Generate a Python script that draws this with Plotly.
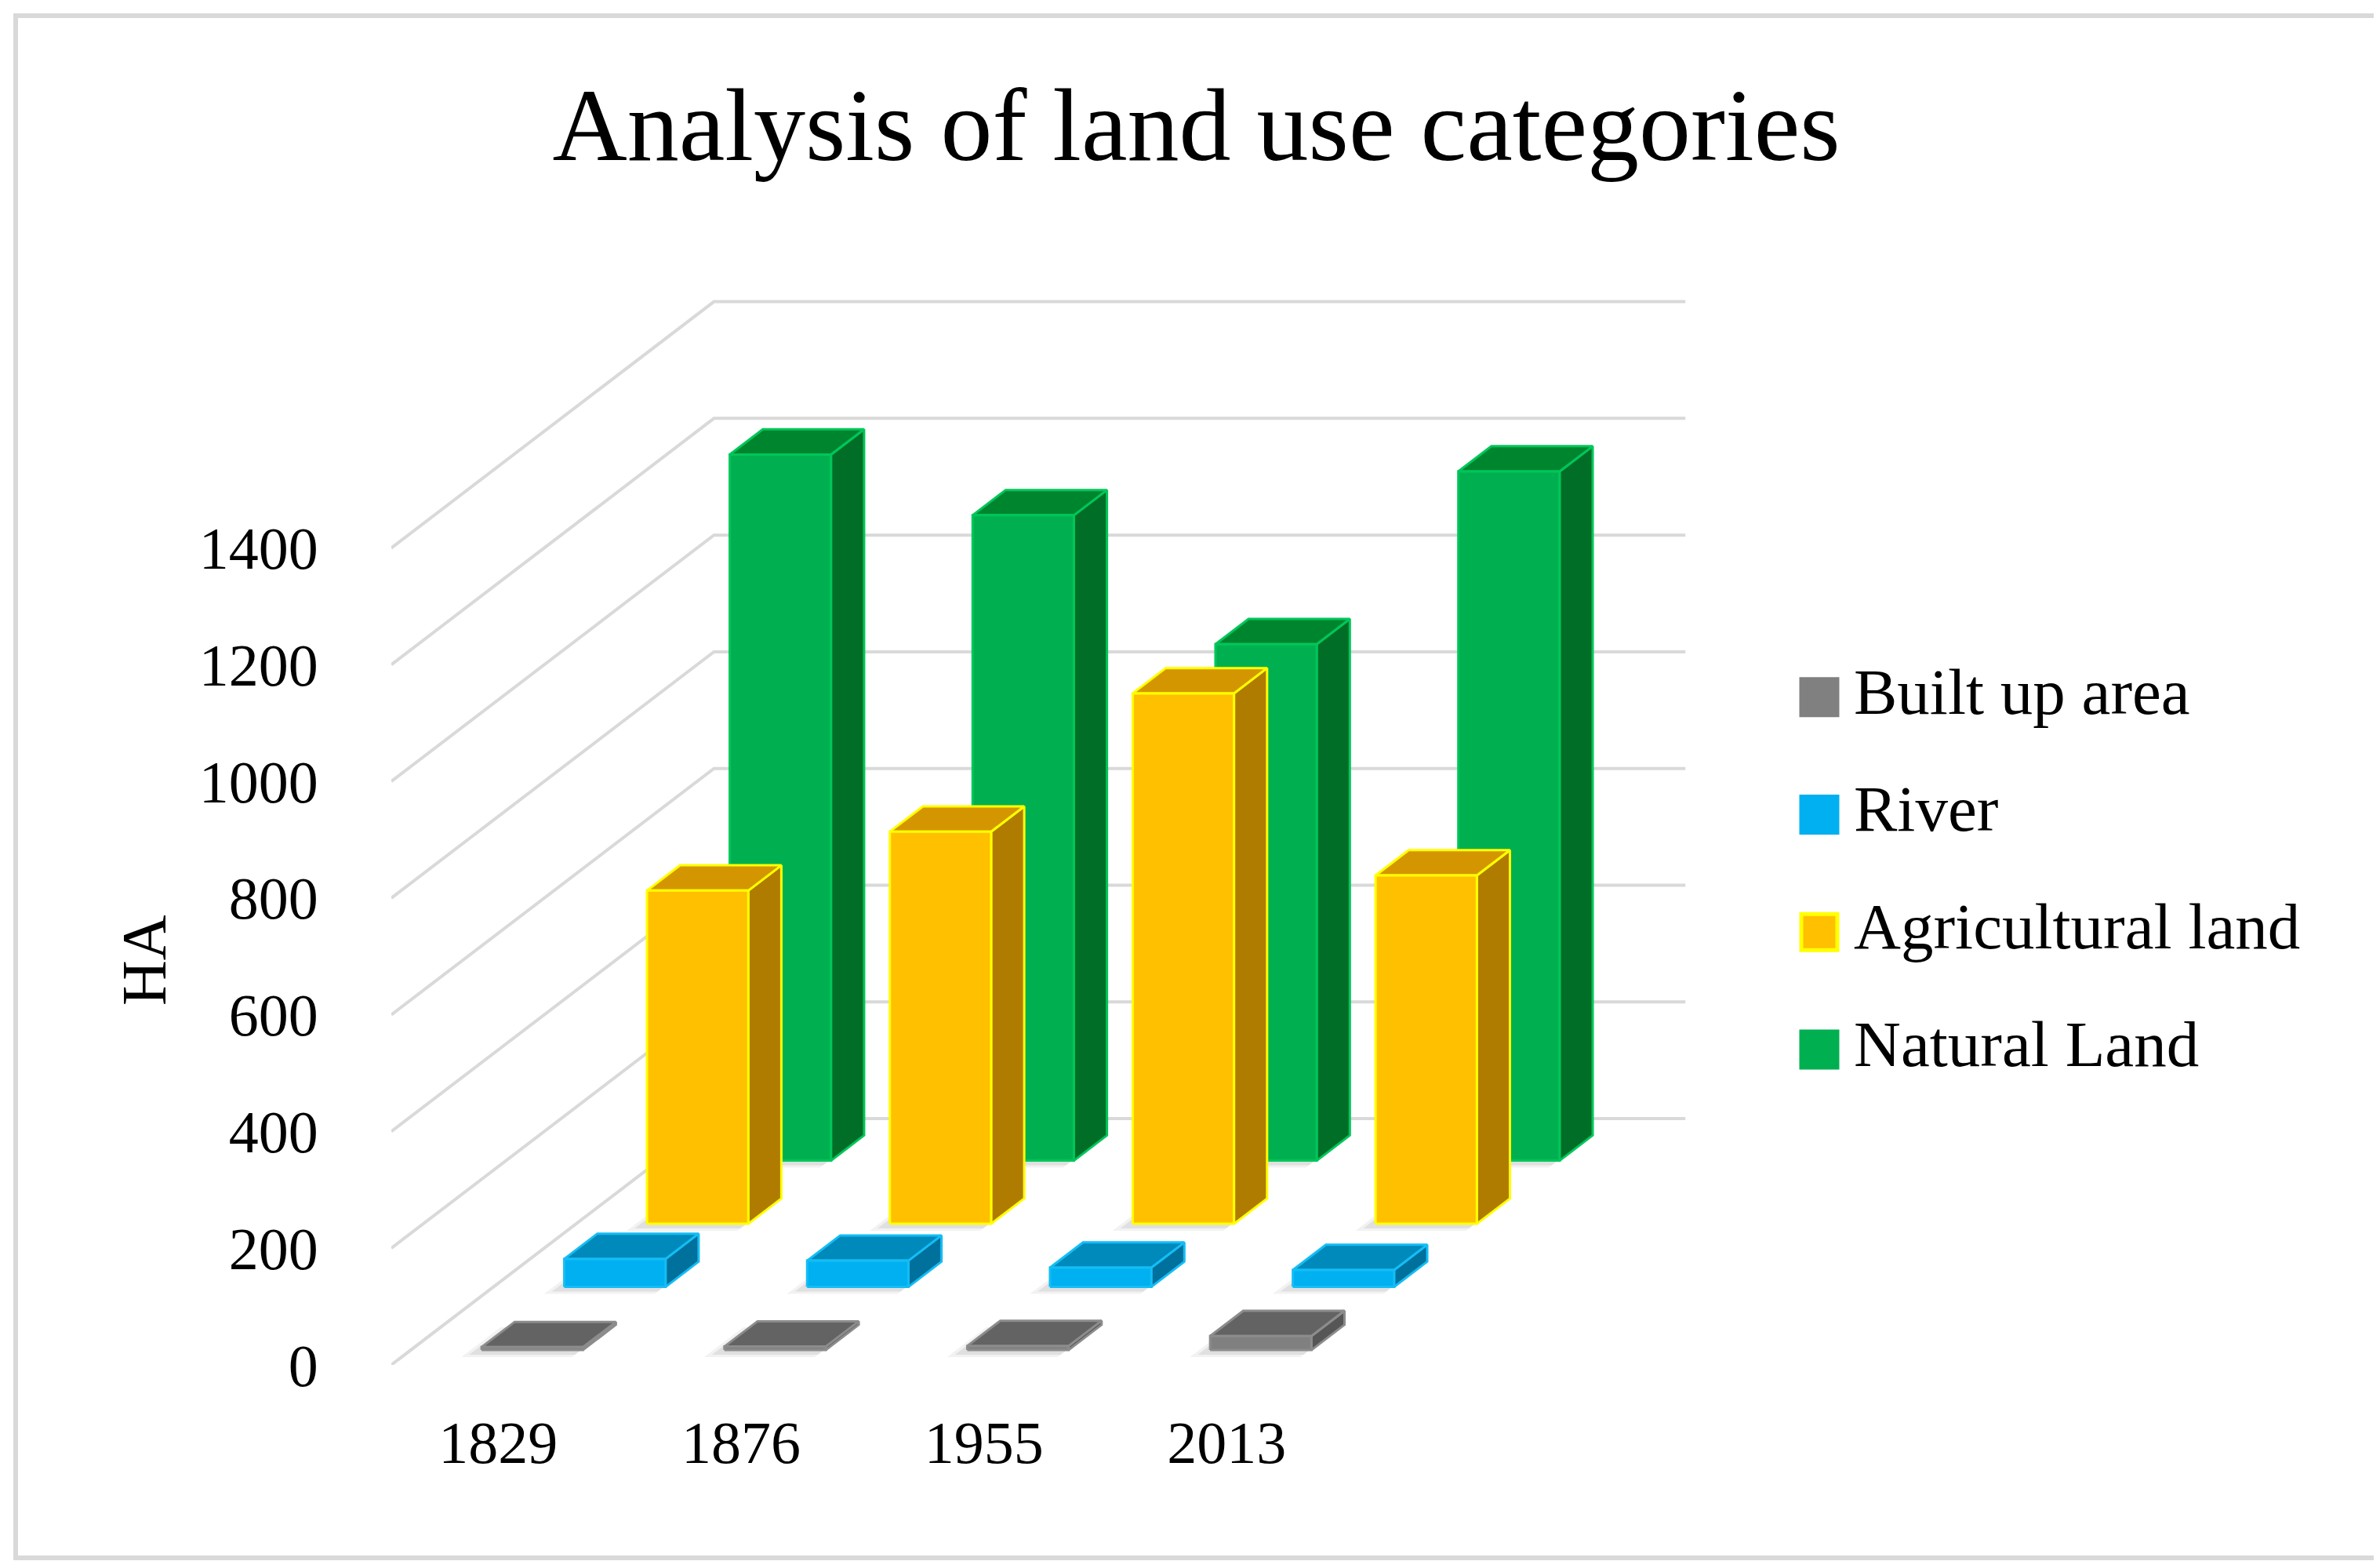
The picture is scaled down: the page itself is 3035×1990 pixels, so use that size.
import plotly.graph_objects as go

# values (hectares)
years = ["1829", "1876", "1955", "2013"]
series = ["Built up area", "River", "Agricultural land", "Natural Land"]
built_up = [5, 6, 7, 24]
river = [48, 45, 33, 29]
agricultural = [571, 672, 909, 597]
natural = [1210, 1106, 885, 1181]
y_ticks = [0, 200, 400, 600, 800, 1000, 1200, 1400]

values = [built_up, river, agricultural, natural]

# colours per series: front, top, side, edge
styles = [
    ("#808080", "#636363", "#565656", "#8c8c8c"),
    ("#00b0f0", "#0089bb", "#00709c", "#14bdf5"),
    ("#ffc000", "#d49600", "#b07c00", "#ffff00"),
    ("#00b050", "#00852f", "#006e27", "#00c65a"),
]

W, H = 3035, 1990
FONT = "Liberation Serif"

# pseudo-3d frame (pixels)
X0, Y0 = 491, 1732        # front-left floor corner
X1, YTOP = 2163, 356      # right / top of the plotting box
CAT_PX = 309.7            # pixels per category
VAL_PX = 0.7439           # pixels per hectare
DEPTH_DX, DEPTH_DY = 105.5, 80.5   # pixels per depth row
FLOOR_DEPTH = 3.9
ROW_FRONT = 0.235
BAR_DEPTH = 0.4
BAR_W = 0.417

KX = DEPTH_DX / CAT_PX
KV = DEPTH_DY / VAL_PX


def proj(c, v, z):
    return c + z * KX, v + z * KV


def poly(pts, dx=0.0, dy=0.0):
    xs, ys = zip(*[proj(*p) for p in pts])
    xs = [x + dx for x in xs]
    ys = [y + dy for y in ys]
    return xs + [xs[0]], ys + [ys[0]]


fig = go.Figure()

# gridlines: left wall + back wall
gx, gy = [], []
for t in y_ticks:
    for p in [(0, t, 0), (0, t, FLOOR_DEPTH), (len(years), t, FLOOR_DEPTH)]:
        x, y = proj(*p)
        gx.append(x)
        gy.append(y)
    gx.append(None)
    gy.append(None)
fig.add_trace(go.Scatter(x=gx, y=gy, mode="lines", line=dict(color="#d9d9d9", width=4),
                         hoverinfo="skip", showlegend=False))

# bars, back row first
for k in reversed(range(len(series))):
    front, top, side, edge = styles[k]
    z0 = ROW_FRONT + k
    z1 = z0 + BAR_DEPTH
    for i, v in enumerate(values[k]):
        cl = i + 0.5 - BAR_W / 2
        cr = i + 0.5 + BAR_W / 2
        # soft floor shadow, mostly to the left of the bar
        for e, alpha in [(12, 0.05), (6, 0.07)]:
            ec, ez = e / CAT_PX, e / DEPTH_DY
            xs, ys = poly([(cl - ec, 0, z0 - ez * 0.5), (cr, 0, z0 - ez * 0.5),
                           (cr, 0, z1), (cl - ec, 0, z1)],
                          dx=-6 / CAT_PX, dy=-3 / VAL_PX)
            fig.add_trace(go.Scatter(x=xs, y=ys, mode="lines", fill="toself",
                                     fillcolor=f"rgba(0,0,0,{alpha})",
                                     line=dict(width=0), hoverinfo="skip", showlegend=False))
        faces = [
            ([(cr, 0, z0), (cr, 0, z1), (cr, v, z1), (cr, v, z0)], side),
            ([(cl, v, z0), (cr, v, z0), (cr, v, z1), (cl, v, z1)], top),
            ([(cl, 0, z0), (cr, 0, z0), (cr, v, z0), (cl, v, z0)], front),
        ]
        for pts, col in faces:
            xs, ys = poly(pts)
            fig.add_trace(go.Scatter(x=xs, y=ys, mode="lines", fill="toself",
                                     fillcolor=col, line=dict(color=edge, width=3),
                                     hoverinfo="skip", showlegend=False))

# legend drawn on its own small axes (pixel units)
LEG_X0, LEG_X1 = 2250, 3020
LEG_Y0, LEG_Y1 = 806, 1405
rows = list(range(len(series)))
fig.add_trace(go.Scatter(
    x=[2312] * len(series), y=rows, mode="markers",
    marker=dict(symbol="square", size=46,
                color=[s[0] for s in styles],
                line=dict(color=[s[3] if s[3] == "#ffff00" else s[0] for s in styles], width=5)),
    xaxis="x2", yaxis="y2", hoverinfo="skip", showlegend=False))
fig.add_trace(go.Scatter(
    x=[2356] * len(series), y=rows, mode="text", text=series,
    textposition="middle right",
    textfont=dict(family=FONT, size=83, color="black"),
    xaxis="x2", yaxis="y2", hoverinfo="skip", showlegend=False))

fig.update_layout(
    width=W, height=H,
    margin=dict(l=0, r=0, t=0, b=0),
    paper_bgcolor="white", plot_bgcolor="white",
    font=dict(family=FONT, color="black"),
    title=dict(text="Analysis of land use categories", x=0.5, xanchor="center",
               y=1 - 150 / H, yanchor="middle",
               font=dict(family=FONT, size=132, color="black")),
    xaxis=dict(domain=[X0 / W, X1 / W], range=[0, (X1 - X0) / CAT_PX],
               tickvals=[i + 0.44 for i in range(len(years))], ticktext=years,
               ticks="outside", ticklen=33, tickcolor="rgba(0,0,0,0)",
               tickfont=dict(family=FONT, size=76, color="black"),
               showgrid=False, zeroline=False, showline=False, automargin=False, fixedrange=True),
    yaxis=dict(domain=[(H - Y0) / H, (H - YTOP) / H], range=[0, (Y0 - YTOP) / VAL_PX],
               tickvals=y_ticks, ticks="outside", ticklen=77, tickcolor="rgba(0,0,0,0)",
               tickfont=dict(family=FONT, size=76, color="black"),
               showgrid=False, zeroline=False, showline=False, automargin=False, fixedrange=True),
    xaxis2=dict(domain=[LEG_X0 / W, LEG_X1 / W], range=[LEG_X0, LEG_X1],
                visible=False, fixedrange=True),
    yaxis2=dict(domain=[(H - LEG_Y1) / H, (H - LEG_Y0) / H], range=[3.5, -0.5],
                visible=False, fixedrange=True),
    annotations=[dict(text="HA", x=176 / W, y=1 - 1216 / H, xref="paper", yref="paper",
                      xanchor="center", yanchor="middle",
                      textangle=-90, showarrow=False,
                      font=dict(family=FONT, size=80, color="black"))],
    shapes=[dict(type="rect", xref="paper", yref="paper",
                 x0=12 / W, x1=1 - 12 / W, y0=12 / H, y1=1 - 12 / H,
                 line=dict(color="#d9d9d9", width=6))],
)

fig.write_html("out.html")
